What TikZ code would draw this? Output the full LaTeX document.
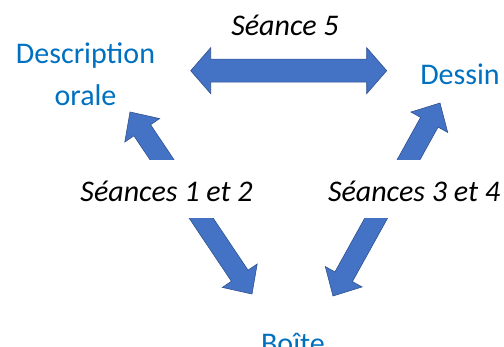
\documentclass[tikz,border=0pt]{standalone}
\usepackage{fontspec}
\setmainfont{Carlito}
\usetikzlibrary{calc}
\definecolor{arrowblue}{HTML}{4472C4}
\definecolor{arrowedge}{HTML}{2F528F}
\definecolor{textblue}{HTML}{0070C0}
% double block arrow between two named coordinates: #1,#2 ends; #3 head length; #4 head half-width; #5 shaft half-width
\newcommand\dblarrow[5]{%
  \path ($(#1)!#3!(#2)$) coordinate (da1) ($(#2)!#3!(#1)$) coordinate (db1);
  \draw[barrow] (#1) -- ($(da1)!#4!90:(#2)$) -- ($(da1)!#5!90:(#2)$)
     -- ($(db1)!#5!-90:(#1)$) -- ($(db1)!#4!-90:(#1)$) -- (#2)
     -- ($(db1)!#4!90:(#1)$) -- ($(db1)!#5!90:(#1)$)
     -- ($(da1)!#5!-90:(#2)$) -- ($(da1)!#4!-90:(#2)$) -- cycle;}
\begin{document}
\begin{tikzpicture}[x=1pt,y=-1pt,
  barrow/.style={fill=arrowblue,draw=arrowedge,line width=0.6pt,line join=miter},
  lbl/.style={font=\fontsize{30}{42}\selectfont, text=textblue, inner sep=0pt, anchor=base, align=center},
  seance/.style={font=\fontsize{30}{36}\selectfont\itshape, fill=white, inner xsep=3pt, inner ysep=0pt, text height=42pt, text depth=16pt, anchor=base}]
\useasboundingbox (0,0) rectangle (504,347);
% endpoints of the block arrows
\coordinate (tl) at (190.7,70.7);
\coordinate (tr) at (386.7,70.7);
\coordinate (lu) at (130,112);
\coordinate (ld) at (252,294);
\coordinate (ru) at (440,103);
\coordinate (rd) at (333,296);
\dblarrow{tl}{tr}{20pt}{23pt}{11.5pt}
\dblarrow{lu}{ld}{22pt}{21pt}{10pt}
\dblarrow{ru}{rd}{22pt}{21pt}{10pt}
% texts
\node[lbl] (desc) at (85.5,106) {Description\\orale};
\node[lbl] (dessin) at (460,85) {Dessin};
\node[lbl] (boite) at (293,354) {Boîte};
\node[lbl,text=black,font=\fontsize{30}{36}\selectfont\itshape] (s5) at (285,36) {Séance 5};
\node[seance] (s12) at (166.5,202) {Séances 1 et 2};
\node[seance] (s34) at (414,202) {Séances 3 et 4};
\end{tikzpicture}
\end{document}
